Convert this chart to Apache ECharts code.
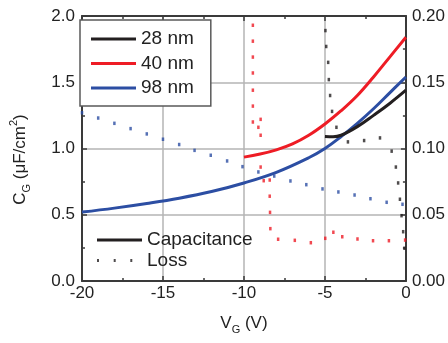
<!DOCTYPE html>
<html>
<head>
<meta charset="utf-8">
<script src="https://cdn.jsdelivr.net/npm/echarts@6/dist/echarts.min.js"></script>
<style>
  html, body { margin: 0; padding: 0; background: #fff; }
  #chart { width: 448px; height: 343px; }
</style>
</head>
<body>
<div id="chart"></div>
<script>
// capacitance curves [V_G, C_G]
const cap28 = [[-5, 1.09], [-4.5, 1.088], [-4, 1.1], [-3, 1.165], [-2, 1.25], [-1, 1.34], [0, 1.44]];
const cap40 = [[-10, 0.935], [-9, 0.958], [-8, 0.99], [-7, 1.035], [-6, 1.1], [-5, 1.185], [-4, 1.285], [-3, 1.4], [-2, 1.54], [-1, 1.69], [0, 1.84]];
const cap98 = [[-20, 0.52], [-18, 0.55], [-16, 0.585], [-14, 0.625], [-12, 0.675], [-10, 0.74], [-8, 0.82], [-6, 0.93], [-5, 1.0], [-4, 1.09], [-3, 1.19], [-2, 1.3], [-1, 1.42], [0, 1.54]];

// loss (right axis) [V_G, loss]
const loss28 = [[-4.97, 0.189], [-4.92, 0.177], [-4.8, 0.165], [-4.76, 0.152], [-4.68, 0.14], [-4.56, 0.128], [-4.29, 0.116],
  [-3.58, 0.105], [-2.58, 0.106], [-1.6, 0.108], [-0.88, 0.098], [-0.62, 0.086], [-0.48, 0.074], [-0.37, 0.0617],
  [-0.27, 0.0493], [-0.17, 0.0372], [-0.09, 0.0247]];
const loss40 = [[-9.45, 0.193], [-9.45, 0.181], [-9.45, 0.169], [-9.45, 0.157], [-9.45, 0.144], [-9.45, 0.132], [-9.45, 0.12],
  [-8.97, 0.122], [-9.11, 0.116], [-8.97, 0.11], [-8.97, 0.086], [-8.78, 0.0757], [-8.41, 0.0762], [-8.41, 0.064],
  [-8.39, 0.0518], [-8.37, 0.0395], [-7.89, 0.0315], [-6.86, 0.0307], [-5.87, 0.0289], [-4.98, 0.0322], [-4.48, 0.0368],
  [-3.93, 0.0334], [-2.99, 0.0317], [-2.03, 0.0304], [-1.05, 0.0304], [-0.05, 0.0309]];
const loss98 = [[-20, 0.127], [-19, 0.123], [-18, 0.119], [-17, 0.115], [-16, 0.111], [-15, 0.107], [-14, 0.103],
  [-13.05, 0.0986], [-12.05, 0.0949], [-11.04, 0.0906], [-10.09, 0.0863], [-9.11, 0.0823], [-8.13, 0.0792],
  [-7.13, 0.0755], [-6.15, 0.0727], [-5.15, 0.0695], [-4.17, 0.0672], [-3.17, 0.0649], [-2.19, 0.0621],
  [-1.19, 0.0594], [-0.21, 0.0579]];

const black = '#231f20';
const red = '#ee1c25';
const blue = '#2c4ea3';
const axisColor = '#3a3a3a';
const gridColor = '#b5b5b5';
const font = 'Liberation Sans, Arial, sans-serif';

const chart = echarts.init(document.getElementById('chart'));

const tickCommon = {
  axisLine: { show: true, onZero: false, lineStyle: { color: axisColor, width: 2 } },
  axisTick: { show: true, inside: true, length: 5, lineStyle: { color: axisColor, width: 1.5 } },
  minorTick: { show: true, splitNumber: 2, length: 3, lineStyle: { color: axisColor, width: 1.5 } },
};

const capLine = (name, data, color) => ({
  name, type: 'line', data, xAxisIndex: 0, yAxisIndex: 0,
  showSymbol: false, smooth: 0.4,
  lineStyle: { color, width: 3 }, itemStyle: { color }, z: 3,
});
const lossDots = (name, data, color) => ({
  name, type: 'scatter', data, xAxisIndex: 0, yAxisIndex: 1,
  symbol: 'rect', symbolSize: [2.5, 3.5], itemStyle: { color }, z: 2,
});

chart.setOption({
  animation: false,
  grid: { left: 79, right: 42, top: 16, bottom: 62 },
  legend: [
    {
      data: ['28 nm', '40 nm', '98 nm'],
      orient: 'vertical', left: 80, top: 20, selectedMode: false,
      padding: [9, 17, 8, 11], itemGap: 4.5,
      itemWidth: 45, itemHeight: 3, icon: 'rect',
      backgroundColor: '#fff', borderColor: '#5a5a5a', borderWidth: 1.5,
      textStyle: { fontFamily: font, fontSize: 19, lineHeight: 20, color: '#222' },
    },
    {
      data: [
        { name: 'Capacitance', icon: 'rect' },
        { name: 'Loss', icon: 'path://M0,0h2v3h-2zM16.7,0h2v3h-2zM33.3,0h2v3h-2zM45,0h0.01v3h-0.01z' },
      ],
      orient: 'vertical', left: 97, top: 230, selectedMode: false,
      padding: 0, itemGap: 0.6, itemWidth: 45, itemHeight: 3,
      textStyle: { fontFamily: font, fontSize: 19, lineHeight: 20, color: '#222' },
    },
  ],
  xAxis: [
    {
      type: 'value', position: 'bottom', min: -20, max: 0, interval: 5,
      ...tickCommon,
      axisLabel: { color: '#222', fontFamily: font, fontSize: 17, margin: 4 },
      splitLine: { show: true, lineStyle: { color: gridColor, width: 1.5 } },
      name: 'V{sub|G} (V)', nameLocation: 'middle', nameGap: 30,
      nameTextStyle: {
        color: '#222', fontFamily: font, fontSize: 17, lineHeight: 24,
        rich: { sub: { fontSize: 11, fontFamily: font, color: '#222', verticalAlign: 'bottom', lineHeight: 24 } },
      },
    },
    {
      type: 'value', position: 'top', min: -20, max: 0, interval: 5,
      ...tickCommon,
      axisLabel: { show: false }, splitLine: { show: false },
    },
  ],
  yAxis: [
    {
      type: 'value', position: 'left', min: 0, max: 2, interval: 0.5,
      ...tickCommon,
      axisLabel: { color: '#222', fontFamily: font, fontSize: 17, margin: 7, formatter: v => v.toFixed(1) },
      splitLine: { show: true, lineStyle: { color: gridColor, width: 1.5 } },
      name: 'C{sub|G} (μF/cm{sup|2})', nameLocation: 'middle', nameGap: 50, nameRotate: 90,
      nameTextStyle: {
        color: '#222', fontFamily: font, fontSize: 17, lineHeight: 24, padding: [0, 0, 0, -22],
        rich: {
          sub: { fontSize: 11, fontFamily: font, color: '#222', verticalAlign: 'bottom', lineHeight: 24 },
          sup: { fontSize: 11, fontFamily: font, color: '#222', verticalAlign: 'top', lineHeight: 24 },
        },
      },
    },
    {
      type: 'value', position: 'right', min: 0, max: 0.2, interval: 0.05,
      ...tickCommon,
      axisLabel: { color: '#222', fontFamily: font, fontSize: 17, margin: 6, formatter: v => v.toFixed(2) },
      splitLine: { show: false },
    },
  ],
  series: [
    lossDots('loss 98', loss98, blue),
    lossDots('loss 40', loss40, red),
    lossDots('loss 28', loss28, black),
    capLine('98 nm', cap98, blue),
    capLine('40 nm', cap40, red),
    capLine('28 nm', cap28, black),
    { name: 'Capacitance', type: 'line', data: [], itemStyle: { color: black }, lineStyle: { color: black } },
    { name: 'Loss', type: 'scatter', data: [], itemStyle: { color: black } },
  ],
});
</script>
</body>
</html>
